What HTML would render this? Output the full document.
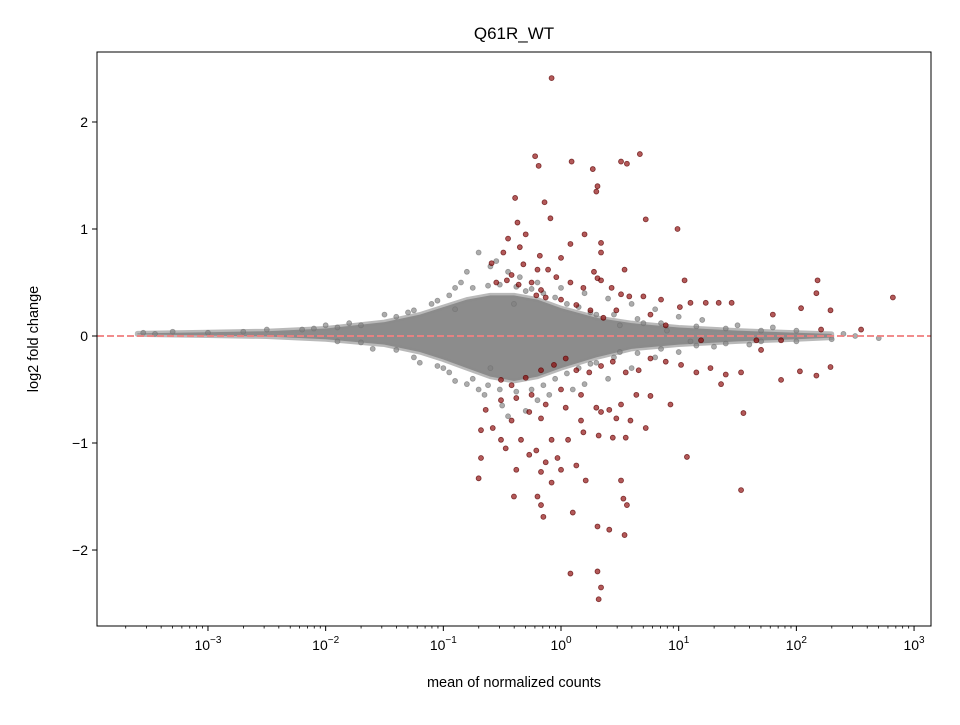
<!DOCTYPE html>
<html><head><meta charset="utf-8"><style>
body{margin:0;background:#fff}
svg{font-family:"Liberation Sans","DejaVu Sans",sans-serif}
</style></head><body>
<svg id="chart" width="960" height="720" viewBox="0 0 960 720">
<rect width="960" height="720" fill="#fff"/>
<text x="514" y="39" font-size="17" text-anchor="middle">Q61R_WT</text>
<g id="plot"></g>
<rect x="97" y="52" width="834" height="574" fill="none" stroke="#000" stroke-width="1"/>
<text x="514" y="687" font-size="14.5" text-anchor="middle">mean of normalized counts</text>
<text transform="translate(38,339) rotate(-90)" font-size="14.5" text-anchor="middle">log2 fold change</text>
</svg>
<script>
const xTickExps=[-3,-2,-1,0,1,2,3];
const yTicks=[-2,-1,0,1,2];
const envLx=[-3.6,-3,-2.5,-2,-1.5,-1.2,-1,-0.8,-0.6,-0.4,-0.2,0,0.3,0.6,1,1.5,2,2.3];
const envUp=[0.025,0.035,0.045,0.07,0.13,0.2,0.27,0.34,0.38,0.38,0.34,0.26,0.17,0.12,0.08,0.05,0.03,0.02];
const envLo=[0.015,0.005,-0.005,-0.03,-0.08,-0.15,-0.22,-0.3,-0.38,-0.42,-0.38,-0.3,-0.2,-0.12,-0.08,-0.05,-0.03,-0.015];
const grayLx=[-1.1,-0.9,-0.85,-0.8,-0.7,-0.6,-0.55,-0.45,-0.35,-1.3,-1.5,-2.0,-1.8,-1.2,-1.0,-0.9,-0.8,-0.7,-0.65,-0.5,-0.45,-0.3,-0.2,-0.1,0.1,0.2,0.4,0.6,0.8,1.0,1.3,1.6,2.0,2.3,2.5,2.7,2.4,2.0,1.8,1.5,1.2,1.0,0.8,0.6,0.4,0.2,0.0,-0.2,-0.3,0.3,0.5,0.7,0.9,1.1,0.5,0.3,-0.4,-0.6,-0.9,-1.6,-2.5,-3.3,-3.55,-3.45,-3.0,-2.7,-2.2,
-1.4,-1.25,-1.05,-0.95,-0.75,-0.62,-0.52,-0.38,-0.25,-0.15,-0.05,0.05,0.15,0.25,0.45,0.65,0.85,1.15,1.4,1.7,-1.4,-1.25,-1.05,-0.95,-0.75,-0.62,-0.52,-0.38,-0.25,-0.15,-0.05,0.05,0.15,0.25,0.45,0.65,0.85,1.15,1.4,1.7,-1.7,-1.9,-2.1,-1.7,-1.9];
const grayY=[0.3,0.45,0.5,0.6,0.78,0.65,0.7,0.6,0.55,0.22,0.2,0.1,0.12,-0.25,-0.3,-0.42,-0.45,-0.5,-0.55,-0.65,-0.75,-0.7,-0.6,-0.55,-0.5,-0.45,-0.4,-0.3,-0.2,-0.15,-0.1,-0.08,-0.05,-0.03,0.0,-0.02,0.02,0.05,0.08,0.1,0.15,0.18,0.25,0.3,0.35,0.4,0.45,0.5,0.42,0.2,0.1,0.12,0.05,-0.05,-0.15,-0.25,0.3,-0.3,0.25,-0.12,0.06,0.04,0.03,0.02,0.03,0.04,0.06,
0.18,0.24,0.33,0.38,0.45,0.47,0.48,0.46,0.44,0.4,0.36,0.3,0.27,0.22,0.2,0.16,0.12,0.09,0.07,0.05,-0.13,-0.2,-0.28,-0.34,-0.4,-0.46,-0.5,-0.52,-0.5,-0.46,-0.4,-0.35,-0.3,-0.26,-0.2,-0.16,-0.12,-0.09,-0.07,-0.05,0.1,0.08,0.07,-0.06,-0.05];
const redLx=[-0.08,-0.22,-0.19,0.09,0.27,0.51,0.56,0.67,0.31,0.30,-0.39,-0.14,-0.09,-0.37,0.72,0.99,-0.45,-0.30,0.08,0.20,0.34,-0.35,-0.18,0.0,0.34,-0.49,-0.59,-0.32,-0.20,-0.46,-0.55,-0.42,-0.36,-0.25,-0.11,-0.04,0.08,0.19,0.28,0.31,0.43,0.51,0.58,0.70,0.85,1.01,1.10,1.23,1.34,1.45,1.05,0.54,0.34,-0.17,-0.21,-0.13,0.0,0.13,0.25,0.36,0.47,0.76,0.89,2.04,2.17,2.18,2.21,2.29,2.55,2.82,1.80,
-0.51,-0.42,-0.30,-0.17,-0.06,0.04,0.13,0.24,0.34,0.44,0.55,0.66,0.76,0.89,1.02,1.15,1.27,1.40,1.53,1.70,1.87,-0.51,-0.38,-0.25,-0.13,0.0,0.17,0.30,0.41,0.51,0.64,0.76,0.93,-0.64,-0.58,-0.42,-0.27,-0.17,0.04,0.17,0.34,0.47,0.59,0.72,-0.68,-0.51,-0.34,-0.21,-0.08,0.06,0.19,0.32,0.44,0.55,1.55,1.07,-0.47,-0.27,-0.13,-0.03,0.13,-0.68,-0.70,-0.38,-0.17,0.0,0.21,-0.20,-0.40,-0.08,0.51,0.53,0.56,-0.17,-0.15,0.10,1.53,0.31,0.41,0.08,0.31,0.34,0.32,0.54,2.17,2.29,2.03,1.36,1.66,1.87,1.19];
const redY=[2.41,1.68,1.59,1.63,1.56,1.63,1.61,1.70,1.40,1.35,1.29,1.25,1.10,1.06,1.09,1.00,0.91,0.95,0.86,0.95,0.87,0.83,0.75,0.73,0.78,0.78,0.68,0.67,0.62,0.52,0.50,0.57,0.48,0.50,0.62,0.55,0.50,0.45,0.60,0.54,0.45,0.39,0.37,0.37,0.34,0.27,0.31,0.31,0.31,0.31,0.52,0.62,0.52,0.43,0.38,0.36,0.34,0.29,0.24,0.17,0.24,0.20,0.10,0.26,0.40,0.52,0.06,0.24,0.06,0.36,0.20,
-0.41,-0.46,-0.39,-0.32,-0.27,-0.21,-0.32,-0.34,-0.28,-0.24,-0.34,-0.32,-0.21,-0.24,-0.27,-0.34,-0.30,-0.36,-0.34,-0.13,-0.41,-0.60,-0.58,-0.55,-0.64,-0.50,-0.55,-0.67,-0.69,-0.64,-0.55,-0.56,-0.64,-0.69,-0.86,-0.79,-0.71,-0.77,-0.67,-0.79,-0.71,-0.77,-0.79,-0.86,-0.88,-0.97,-0.97,-1.07,-0.97,-0.97,-0.90,-0.93,-0.95,-0.95,-0.72,-1.13,-1.05,-1.11,-1.18,-1.14,-1.21,-1.14,-1.33,-1.25,-1.27,-1.25,-1.35,-1.50,-1.50,-1.37,-1.35,-1.52,-1.58,-1.58,-1.69,-1.65,-1.44,-1.78,-1.81,-2.22,-2.20,-2.35,-2.46,-1.86,-0.37,-0.29,-0.33,-0.45,-0.04,-0.04,-0.04];

const NS='http://www.w3.org/2000/svg';
const X0=97,X1=931,Y0=52,Y1=626,LXMIN=-3.943,LXMAX=3.144,YMIN=-2.71,YMAX=2.654;
const sx=lx=>X0+(lx-LXMIN)/(LXMAX-LXMIN)*(X1-X0);
const sy=v=>Y1-(v-YMIN)/(YMAX-YMIN)*(Y1-Y0);
const svg=document.getElementById('chart');
const plot=document.getElementById('plot');
function mk(tag,attrs,parent){const e=document.createElementNS(NS,tag);for(const k in attrs)e.setAttribute(k,attrs[k]);(parent||plot).appendChild(e);return e;}

let d='M'+envLx.map((lx,i)=>sx(lx)+','+sy(envUp[i])).join(' L');
for(let i=envLx.length-1;i>=0;i--)d+=' L'+sx(envLx[i])+','+sy(envLo[i]);
d+=' Z';
const env=mk('path',{d:d,fill:'#808080','fill-opacity':'0.9',stroke:'#8a8a8a','stroke-width':'5','stroke-linejoin':'round','stroke-opacity':'0.6'});



grayLx.forEach((lx,i)=>{
  const c=mk('circle',{cx:sx(lx),cy:sy(grayY[i]),r:2.5,fill:'#808080','fill-opacity':'0.65',stroke:'#707070','stroke-opacity':'0.6','stroke-width':'0.8'});
  
  
});
redLx.forEach((lx,i)=>{
  const c=mk('circle',{cx:sx(lx),cy:sy(redY[i]),r:2.5,fill:'#8b0000','fill-opacity':'0.65',stroke:'#5a0000','stroke-opacity':'0.7','stroke-width':'0.8'});
  
  
});
const zl=mk('line',{x1:X0,x2:X1,y1:sy(0),y2:sy(0),stroke:'#f08080','stroke-width':'2','stroke-dasharray':'7,3','stroke-opacity':'0.9'});



xTickExps.forEach(e=>{
  const x=sx(e);
  const t=mk('line',{x1:x,x2:x,y1:Y1,y2:Y1+5,stroke:'#000'},svg);
  
  
  const tx=mk('text',{x:x,y:Y1+24,'font-size':'14','text-anchor':'middle'},svg);
  
  
  tx.innerHTML='10<tspan dy="-7" font-size="10">'+(e<0?'\u2212'+(-e):e)+'</tspan>';
});
for(let e=-4;e<=3;e++)for(let m=2;m<=9;m++){
  const lx=e+Math.log10(m);
  if(lx<LXMIN||lx>LXMAX)continue;
  const t=mk('line',{x1:sx(lx),x2:sx(lx),y1:Y1,y2:Y1+2.5,stroke:'#000','stroke-width':'0.8'},svg);
  
  
}
yTicks.forEach(v=>{
  const y=sy(v);
  const t=mk('line',{x1:X0-5,x2:X0,y1:y,y2:y,stroke:'#000'},svg);
  
  
  const tx=mk('text',{x:X0-9,y:y+5,'font-size':'14','text-anchor':'end'},svg);
  
  
  tx.textContent=v<0?'\u2212'+(-v):String(v);
});
</script>
</body></html>
